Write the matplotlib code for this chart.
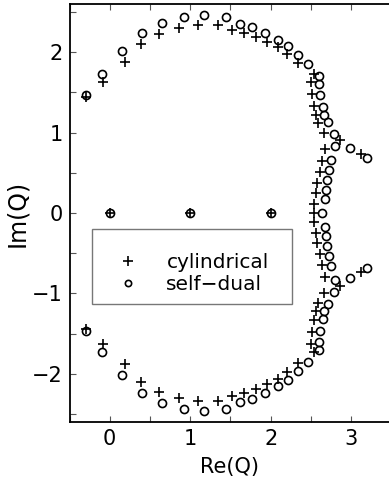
import matplotlib
matplotlib.use("Agg")
import matplotlib.pyplot as plt
from matplotlib.lines import Line2D
from matplotlib.patches import Rectangle
import numpy as np

# zeros in the upper half plane (the lower half is the complex conjugate)
cyl_re = [-0.298, -0.083, 0.195, 0.394, 0.612, 0.857, 1.097, 1.342, 1.524, 1.665,
          1.814, 1.954, 2.087, 2.202, 2.344, 2.543, 2.501, 2.518, 2.534, 2.559,
          2.593, 2.667, 2.857, 3.122, 2.675, 2.642, 2.609, 2.575, 2.559, 2.543]
cyl_im = [1.441, 1.627, 1.876, 2.104, 2.229, 2.303, 2.340, 2.344, 2.282, 2.236,
          2.195, 2.124, 2.071, 1.980, 1.863, 1.723, 1.627, 1.475, 1.334, 1.214,
          1.118, 0.994, 0.903, 0.729, 0.800, 0.646, 0.509, 0.373, 0.248, 0.117]
cyl_real = [0.0, 1.0, 2.0, 2.543]

sd_re = [-0.298, -0.091, 0.158, 0.398, 0.655, 0.919, 1.171, 1.441, 1.615, 1.764,
         1.929, 2.087, 2.211, 2.335, 2.468, 2.600, 2.600, 2.617, 2.650, 2.658,
         2.717, 2.791, 2.799, 2.981, 3.196, 2.749, 2.724, 2.699, 2.683, 2.675]
sd_im = [1.471, 1.723, 2.012, 2.241, 2.365, 2.435, 2.468, 2.439, 2.353, 2.311,
         2.241, 2.154, 2.080, 1.971, 1.856, 1.702, 1.607, 1.462, 1.317, 1.214,
         1.127, 0.978, 0.832, 0.807, 0.688, 0.663, 0.530, 0.406, 0.282, 0.170]
sd_real = [0.0, 1.0, 2.0, 2.642]


def full_set(re, im, real):
    re = np.asarray(re)
    im = np.asarray(im)
    x = np.concatenate([re, re, real])
    y = np.concatenate([im, -im, np.zeros(len(real))])
    return x, y


fig = plt.figure(figsize=(3.89, 4.87), dpi=100)
ax = fig.add_axes([69.5 / 389, 65 / 487, 1 - 69.5 / 389, 418 / 487])

x, y = full_set(sd_re, sd_im, sd_real)
ax.plot(x, y, 'o', ms=5.8, mfc='none', mec='black', mew=1.2, zorder=3)
x, y = full_set(cyl_re, cyl_im, cyl_real)
ax.plot(x, y, '+', ms=7, mec='black', mew=1.2, zorder=3)

ax.set_xlim(-0.5, 3.469)
ax.set_ylim(-2.6, 2.6)
ax.set_xticks([0, 1, 2, 3])
ax.set_yticks([-2, -1, 0, 1, 2])
ax.set_xticks(np.arange(-0.5, 3.5, 0.5), minor=True)
ax.set_yticks(np.arange(-2.5, 2.6, 0.5), minor=True)
ax.tick_params(which='both', direction='in', length=4, width=0.8, color='#555555',
               top=True, right=False, labelsize=15, pad=5)
ax.spines['right'].set_visible(False)
for s in ['left', 'bottom', 'top']:
    ax.spines[s].set_linewidth(1.3)

ax.set_xlabel('Re(Q)', fontsize=15, labelpad=6)
ax.set_ylabel('Im(Q)', fontsize=17, labelpad=2)

# legend box
ax.add_patch(Rectangle((0.0704, 0.282), 0.626, 0.180, transform=ax.transAxes,
                       fill=False, edgecolor='#777777', lw=1.0, zorder=4))
handles = [Line2D([], [], ls='none', marker='+', ms=7, mec='black', mew=1.2),
           Line2D([], [], ls='none', marker='o', ms=4.5, mfc='none', mec='black', mew=1.2)]
ax.legend(handles, ['cylindrical', 'self\u2212dual'], loc='upper left',
          bbox_to_anchor=(0.152, 0.404), frameon=False, fontsize=14.5,
          handlelength=1.0, handletextpad=1.4, borderpad=0, borderaxespad=0,
          labelspacing=0.15, numpoints=1)

fig.savefig('out.png', dpi=100)
